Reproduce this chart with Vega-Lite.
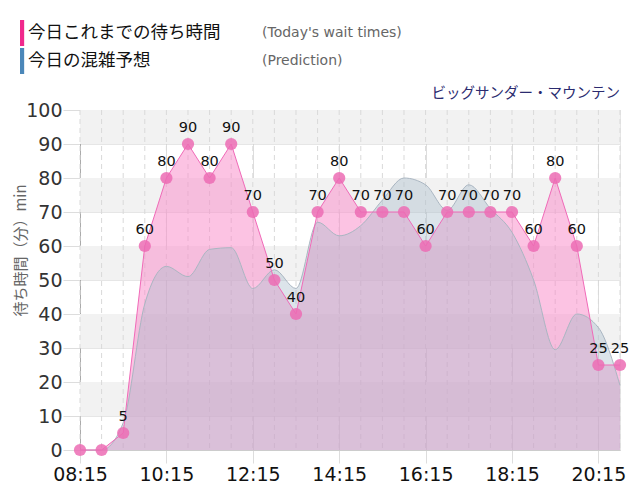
{
  "$schema": "https://vega.github.io/schema/vega-lite/v6.json",
  "width": 540,
  "height": 340,
  "autosize": {"type": "none"},
  "padding": {"left": 80, "top": 110, "right": 20, "bottom": 50},
  "background": "#ffffff",
  "title": {"text": "ビッグサンダー・マウンテン", "anchor": "end", "orient": "top", "offset": 10, "dy": 91, "font": "Noto Sans CJK JP", "fontSize": 14.5, "fontWeight": "normal", "color": "#2b2b6f", "frame": "group"},
  "config": {
    "view": {"fill": "#f9f9f9", "stroke": "#cccccc", "strokeDash": [1, 1]},
    "axisX": {"grid": true, "gridColor": "#dddddd", "gridWidth": 1, "tickColor": "#dddddd", "tickSize": 13, "labelFont": "DejaVu Sans", "labelFontSize": 19, "labelColor": "#111111", "labelPadding": 2, "labelFlush": false, "domainColor": "#cccccc"},
    "axisY": {"grid": true, "gridColor": "#cccccc", "gridDash": [1, 1], "tickColor": "#dddddd", "tickSize": 17, "labelFont": "DejaVu Sans", "labelFontSize": 19, "labelColor": "#333333", "labelPadding": 1, "labelFlush": false, "labelOverlap": false, "domainColor": "#aaaaaa", "titleFont": "Noto Sans CJK JP", "titleFontSize": 15, "titleFontWeight": "normal", "titleColor": "#666666", "titleAngle": -90, "titleX": -60, "titleY": 140, "titleAlign": "center", "titleBaseline": "middle"}
  },
  "datasets": {
    "actual": [
      {"t": "2024-01-01T08:15", "v": 0}, {"t": "2024-01-01T08:45", "v": 0}, {"t": "2024-01-01T09:15", "v": 5}, {"t": "2024-01-01T09:45", "v": 60},
      {"t": "2024-01-01T10:15", "v": 80}, {"t": "2024-01-01T10:45", "v": 90}, {"t": "2024-01-01T11:15", "v": 80}, {"t": "2024-01-01T11:45", "v": 90},
      {"t": "2024-01-01T12:15", "v": 70}, {"t": "2024-01-01T12:45", "v": 50}, {"t": "2024-01-01T13:15", "v": 40}, {"t": "2024-01-01T13:45", "v": 70},
      {"t": "2024-01-01T14:15", "v": 80}, {"t": "2024-01-01T14:45", "v": 70}, {"t": "2024-01-01T15:15", "v": 70}, {"t": "2024-01-01T15:45", "v": 70},
      {"t": "2024-01-01T16:15", "v": 60}, {"t": "2024-01-01T16:45", "v": 70}, {"t": "2024-01-01T17:15", "v": 70}, {"t": "2024-01-01T17:45", "v": 70},
      {"t": "2024-01-01T18:15", "v": 70}, {"t": "2024-01-01T18:45", "v": 60}, {"t": "2024-01-01T19:15", "v": 80}, {"t": "2024-01-01T19:45", "v": 60},
      {"t": "2024-01-01T20:15", "v": 25}, {"t": "2024-01-01T20:45", "v": 25}
    ],
    "pred": [
      {"t": "2024-01-01T08:15", "v": 0}, {"t": "2024-01-01T08:45", "v": 0}, {"t": "2024-01-01T09:15", "v": 8}, {"t": "2024-01-01T09:45", "v": 43},
      {"t": "2024-01-01T10:15", "v": 54}, {"t": "2024-01-01T10:45", "v": 51}, {"t": "2024-01-01T11:15", "v": 59}, {"t": "2024-01-01T11:45", "v": 59.5},
      {"t": "2024-01-01T12:15", "v": 47.5}, {"t": "2024-01-01T12:45", "v": 53}, {"t": "2024-01-01T13:15", "v": 47.5}, {"t": "2024-01-01T13:45", "v": 67},
      {"t": "2024-01-01T14:15", "v": 63}, {"t": "2024-01-01T14:45", "v": 66}, {"t": "2024-01-01T15:15", "v": 73.5}, {"t": "2024-01-01T15:45", "v": 80},
      {"t": "2024-01-01T16:15", "v": 78}, {"t": "2024-01-01T16:45", "v": 70.5}, {"t": "2024-01-01T17:15", "v": 78}, {"t": "2024-01-01T17:45", "v": 71},
      {"t": "2024-01-01T18:15", "v": 64}, {"t": "2024-01-01T18:45", "v": 50}, {"t": "2024-01-01T19:15", "v": 29.5}, {"t": "2024-01-01T19:45", "v": 40},
      {"t": "2024-01-01T20:15", "v": 36}, {"t": "2024-01-01T20:45", "v": 19}
    ],
    "bands": [
      {"v": 10, "hi": 20}, {"v": 30, "hi": 40}, {"v": 50, "hi": 60}, {"v": 70, "hi": 80}, {"v": 90, "hi": 100}
    ],
    "legend": [
      {"series": "今日これまでの待ち時間", "en": "(Today's wait times)"},
      {"series": "今日の混雑予想", "en": "(Prediction)"}
    ]
  },
  "encoding": {
    "y": {"field": "v", "type": "quantitative", "title": "待ち時間（分）min",
          "scale": {"domain": [0, 100], "nice": false},
          "axis": {"values": [0, 10, 20, 30, 40, 50, 60, 70, 80, 90, 100], "tickCount": 11, "labelOverlap": false}}
  },
  "layer": [
    {
      "data": {"name": "bands"},
      "mark": {"type": "rect", "color": "#f2f2f2"},
      "encoding": {
        "y2": {"field": "hi"}
      }
    },
    {
      "data": {"name": "actual"},
      "mark": {"type": "rule", "color": "#d9d9d9", "strokeDash": [5, 4], "strokeWidth": 1},
      "encoding": {
        "y": null,
        "x": {"field": "t", "type": "temporal", "title": null,
              "scale": {"domain": [{"year": 2024, "month": 1, "date": 1, "hours": 8, "minutes": 15}, {"year": 2024, "month": 1, "date": 1, "hours": 20, "minutes": 45}]},
              "axis": {"format": "%H:%M", "values": [
                {"year": 2024, "month": 1, "date": 1, "hours": 8, "minutes": 15},
                {"year": 2024, "month": 1, "date": 1, "hours": 10, "minutes": 15},
                {"year": 2024, "month": 1, "date": 1, "hours": 12, "minutes": 15},
                {"year": 2024, "month": 1, "date": 1, "hours": 14, "minutes": 15},
                {"year": 2024, "month": 1, "date": 1, "hours": 16, "minutes": 15},
                {"year": 2024, "month": 1, "date": 1, "hours": 18, "minutes": 15},
                {"year": 2024, "month": 1, "date": 1, "hours": 20, "minutes": 15}]}}
      }
    },
    {
      "data": {"name": "actual"},
      "mark": {"type": "area", "color": "#f987c7", "opacity": 0.5, "interpolate": "linear"},
      "encoding": {"x": {"field": "t", "type": "temporal", "title": null}}
    },
    {
      "data": {"name": "pred"},
      "mark": {"type": "area", "color": "#a8bbca", "opacity": 0.4, "interpolate": "monotone"},
      "encoding": {"x": {"field": "t", "type": "temporal", "title": null}}
    },
    {
      "data": {"name": "pred"},
      "mark": {"type": "line", "color": "#aab6c2", "strokeWidth": 1, "interpolate": "monotone"},
      "encoding": {"x": {"field": "t", "type": "temporal", "title": null}}
    },
    {
      "data": {"name": "actual"},
      "mark": {"type": "line", "color": "#f06ab8", "strokeWidth": 1},
      "encoding": {"x": {"field": "t", "type": "temporal", "title": null}}
    },
    {
      "data": {"name": "actual"},
      "mark": {"type": "circle", "size": 150, "color": "#ec6cb4", "opacity": 0.85},
      "encoding": {"x": {"field": "t", "type": "temporal", "title": null}}
    },
    {
      "data": {"name": "actual"},
      "transform": [{"filter": "datum.v > 0"}],
      "mark": {"type": "text", "font": "DejaVu Sans", "fontSize": 14.5, "color": "#111111", "baseline": "alphabetic", "dy": -12},
      "encoding": {
        "x": {"field": "t", "type": "temporal", "title": null},
        "text": {"field": "v", "type": "quantitative"}
      }
    },
    {
      "data": {"values": [{}]},
      "mark": {"type": "text", "text": "Big Thunder Mountain", "align": "right", "baseline": "alphabetic", "font": "DejaVu Sans", "fontSize": 14.5, "color": "#2a2a72"},
      "encoding": {
        "x": {"datum": {"year": 2024, "month": 1, "date": 1, "hours": 20, "minutes": 30}, "type": "temporal"},
        "y": {"datum": 8.6, "type": "quantitative"}
      }
    },
    {
      "data": {"values": [{}]},
      "mark": {"type": "text", "text": "https://disneyreal.asumirai.info", "align": "right", "baseline": "alphabetic", "font": "DejaVu Sans", "fontSize": 14.5, "color": "#666666"},
      "encoding": {
        "x": {"datum": {"year": 2024, "month": 1, "date": 1, "hours": 20, "minutes": 30}, "type": "temporal"},
        "y": {"datum": 3.15, "type": "quantitative"}
      }
    },
    {
      "data": {"name": "legend"},
      "mark": {"type": "point", "filled": true, "opacity": 0},
      "encoding": {
        "y": null,
        "color": {"field": "series", "type": "nominal",
                  "scale": {"domain": ["今日これまでの待ち時間", "今日の混雑予想"], "range": ["#f0288c", "#4b87b9"]},
                  "legend": {"orient": "none", "legendX": -60, "legendY": -90, "direction": "vertical", "title": null, "symbolType": "M-1,-1H-0.68V1H-1Z", "symbolSize": 676, "symbolOpacity": 1, "symbolStrokeWidth": 0, "labelOffset": -18, "rowPadding": 2, "labelFont": "Noto Sans CJK JP", "labelFontSize": 17.5, "labelColor": "#111111", "labelLimit": 500, "padding": 0}},
        "shape": {"field": "en", "type": "nominal",
                  "scale": {"domain": ["(Today's wait times)", "(Prediction)"], "range": ["circle", "circle"]},
                  "legend": {"orient": "none", "legendX": 156, "legendY": -90, "direction": "vertical", "title": null, "symbolSize": 676, "symbolOpacity": 0, "symbolStrokeWidth": 0, "labelOffset": 0, "rowPadding": 2, "labelFont": "DejaVu Sans", "labelFontSize": 14, "labelColor": "#666666", "labelLimit": 500, "padding": 0}}
      }
    }
  ]
}
